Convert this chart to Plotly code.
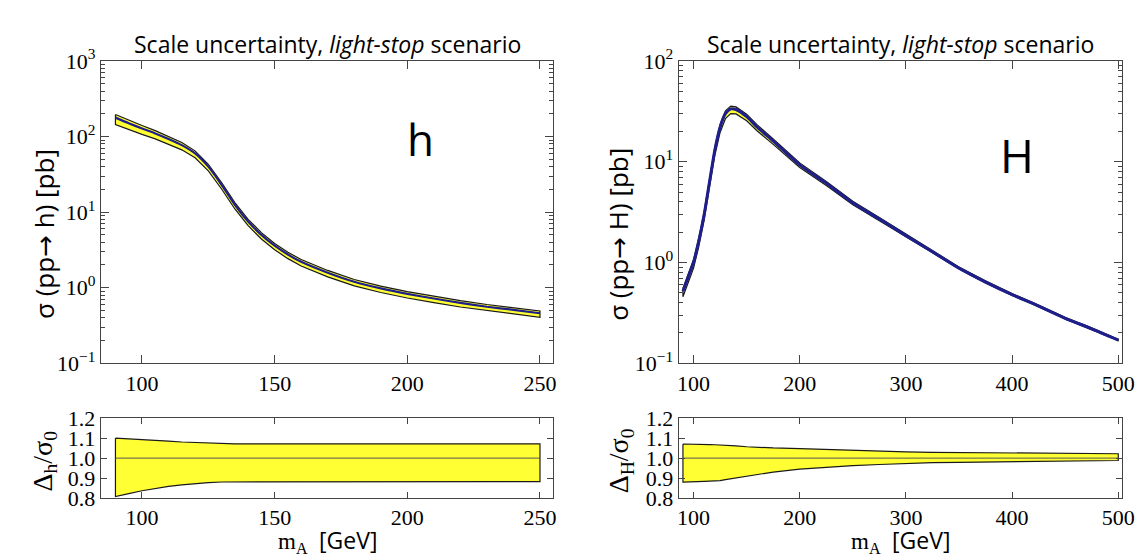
import numpy as np
import plotly.graph_objects as go

# ---------------- data ----------------
mA_h = [90, 95, 100, 105, 110, 115, 120, 125, 130, 135, 140, 145, 150, 155,
        160, 170, 180, 190, 200, 210, 220, 230, 240, 250]
sigma_h = [178, 150, 128, 110, 93, 77, 60, 40, 23, 12.5, 7.5, 5.0, 3.6, 2.75,
           2.2, 1.58, 1.2, 0.98, 0.83, 0.72, 0.63, 0.56, 0.51, 0.46]
ratio_h_up = [1.100, 1.097, 1.093, 1.089, 1.085, 1.081, 1.078, 1.075, 1.073,
              1.072, 1.072, 1.072, 1.072, 1.072, 1.072, 1.072, 1.072, 1.072,
              1.072, 1.072, 1.072, 1.072, 1.072, 1.072]
ratio_h_lo = [0.807, 0.822, 0.836, 0.848, 0.858, 0.866, 0.872, 0.877, 0.880,
              0.881, 0.882, 0.882, 0.882, 0.882, 0.882, 0.882, 0.882, 0.882,
              0.882, 0.882, 0.882, 0.882, 0.882, 0.882]

mA_H = [90, 95, 100, 105, 110, 115, 120, 125, 130, 135, 140, 150, 160, 175,
        200, 225, 250, 275, 300, 325, 350, 375, 400, 425, 450, 475, 500]
sigma_H = [0.52, 0.72, 1.0, 1.65, 3.0, 6.3, 13, 22, 30, 33.5, 33, 28, 22, 16,
           9.3, 6.1, 3.9, 2.7, 1.85, 1.28, 0.88, 0.64, 0.48, 0.37, 0.28, 0.22, 0.17]
ratio_H_up = [1.071, 1.071, 1.070, 1.070, 1.069, 1.068, 1.067, 1.066, 1.065,
              1.063, 1.061, 1.057, 1.054, 1.051, 1.048, 1.043, 1.038, 1.034,
              1.031, 1.029, 1.028, 1.027, 1.026, 1.025, 1.024, 1.023, 1.022]
ratio_H_lo = [0.879, 0.880, 0.881, 0.882, 0.883, 0.884, 0.884, 0.887, 0.892,
              0.898, 0.903, 0.910, 0.918, 0.930, 0.945, 0.955, 0.962, 0.968,
              0.974, 0.977, 0.979, 0.981, 0.983, 0.985, 0.986, 0.987, 0.988]

title_text = "Scale uncertainty, <i>light-stop</i> scenario"

YELLOW = "#ffff33"
BLUE = "#1e1e8c"
EDGE = "#1a1a1a"
AX = "#444444"

W, H = 1143, 556
def px(x): return x / W
def py(y): return 1 - y / H

fig = go.Figure()

def add_panel(m, s, up, lo, xa, ya, xa2, ya2, blue_w):
    m = np.array(m, float); s = np.array(s, float)
    up = np.array(up); lo = np.array(lo)
    hi_s = s * up; lo_s = s * lo
    fig.add_trace(go.Scatter(x=np.r_[m, m[::-1], m[:1]], y=np.r_[hi_s, lo_s[::-1], hi_s[:1]],
                             fill="toself", fillcolor=YELLOW, mode="lines",
                             line=dict(color=EDGE, width=1.2),
                             xaxis=xa, yaxis=ya, showlegend=False, hoverinfo="skip"))
    fig.add_trace(go.Scatter(x=m, y=s, mode="lines",
                             line=dict(color=BLUE, width=blue_w, shape="spline", smoothing=0.6),
                             xaxis=xa, yaxis=ya, showlegend=False))
    fig.add_trace(go.Scatter(x=np.r_[m, m[::-1], m[:1]], y=np.r_[up, lo[::-1], up[:1]],
                             fill="toself", fillcolor=YELLOW, mode="lines",
                             line=dict(color=EDGE, width=1.2),
                             xaxis=xa2, yaxis=ya2, showlegend=False, hoverinfo="skip"))
    fig.add_trace(go.Scatter(x=[m[0], m[-1]], y=[1.0, 1.0], mode="lines",
                             line=dict(color="#555555", width=1),
                             xaxis=xa2, yaxis=ya2, showlegend=False))

add_panel(mA_h, sigma_h, ratio_h_up, ratio_h_lo, "x", "y", "x2", "y2", 2.2)
add_panel(mA_H, sigma_H, ratio_H_up, ratio_H_lo, "x3", "y3", "x4", "y4", 3.0)

tickfont = dict(family="Liberation Serif", size=22, color="black")
common = dict(showline=True, linecolor=AX, linewidth=1.2, mirror="allticks",
              ticks="inside", tickcolor=AX, showgrid=False, zeroline=False,
              tickfont=tickfont)

dom_L = [px(93), px(551)]
dom_R = [px(678), px(1127)]
dom_main = [py(358), py(39)]
dom_rat = [py(500), py(416)]

def logaxis(lo, hi):
    vals = [10.0 ** e for e in range(lo, hi + 1)]
    txt = []
    for e in range(lo, hi + 1):
        es = str(e).replace("-", "\u2212")
        txt.append(f"10<sup>{es}</sup>")
    minor = [k * 10.0 ** e for e in range(lo, hi) for k in range(2, 10)]
    return dict(type="log", range=[lo, hi], tickmode="array", tickvals=vals,
                ticktext=txt, ticklen=8,
                minor=dict(ticks="inside", ticklen=4, tickcolor=AX,
                           tickmode="array", tickvals=minor, showgrid=False),
                **common)

ratio_y = dict(range=[0.8, 1.2], tickmode="array",
               tickvals=[0.8, 0.9, 1.0, 1.1, 1.2],
               ticktext=["0.8", "0.9", "1.0", "1.1", "1.2"], ticklen=6, **common)

fig.update_layout(
    width=W, height=H, margin=dict(l=0, r=0, t=0, b=0),
    plot_bgcolor="white", paper_bgcolor="white",
    xaxis=dict(domain=dom_L, anchor="y", range=[84.5, 255], tickvals=[100, 150, 200, 250],
               ticklen=8, **common),
    yaxis=dict(domain=dom_main, anchor="x", **logaxis(-1, 3)),
    xaxis2=dict(domain=dom_L, anchor="y2", range=[84.5, 255], tickvals=[100, 150, 200, 250],
                ticklen=6, **common),
    yaxis2=dict(domain=dom_rat, anchor="x2", **ratio_y),
    xaxis3=dict(domain=dom_R, anchor="y3", range=[86, 503.7],
                tickvals=[100, 200, 300, 400, 500], ticklen=8, **common),
    yaxis3=dict(domain=dom_main, anchor="x3", **logaxis(-1, 2)),
    xaxis4=dict(domain=dom_R, anchor="y4", range=[86, 503.7],
                tickvals=[100, 200, 300, 400, 500], ticklen=6, **common),
    yaxis4=dict(domain=dom_rat, anchor="x4", **ratio_y),
)

sans = "Open Sans"
def A(x, y, text, font, angle=0):
    return dict(x=px(x), y=py(y), xref="paper", yref="paper", text=text,
                showarrow=False, font=font, textangle=angle,
                xanchor="center", yanchor="middle")

arrow = '<span style="font-family:DejaVu Sans">→</span>'
ann = []
for xc in [(93 + 551) / 2, (678 + 1127) / 2]:
    ann.append(A(xc, 21, title_text, dict(family=sans, size=23, color="black")))
ann.append(A(417, 121, "h", dict(family=sans, size=44, color="black")))
ann.append(A(1021, 138, "H", dict(family=sans, size=46, color="black")))
ann.append(A(36, 222, f"σ (pp{arrow} h) [pb]", dict(family=sans, size=26, color="black"), -90))
ann.append(A(617, 222, f"σ (pp{arrow} H) [pb]", dict(family=sans, size=26, color="black"), -90))
ann.append(A(36, 461, "Δ<sub>h</sub>/σ<sub>0</sub>",
             dict(family="Liberation Serif", size=28, color="black"), -90))
ann.append(A(620, 461, "Δ<sub>H</sub>/σ<sub>0</sub>",
             dict(family="Liberation Serif", size=28, color="black"), -90))
xt = ('m<sub>A</sub>  <span style="font-family:Open Sans">[GeV]</span>')
for xc in [(93 + 551) / 2, (678 + 1127) / 2]:
    ann.append(A(xc, 545, xt, dict(family="Liberation Serif", size=23, color="black")))
fig.update_layout(annotations=ann)

fig.write_html("out.html")
